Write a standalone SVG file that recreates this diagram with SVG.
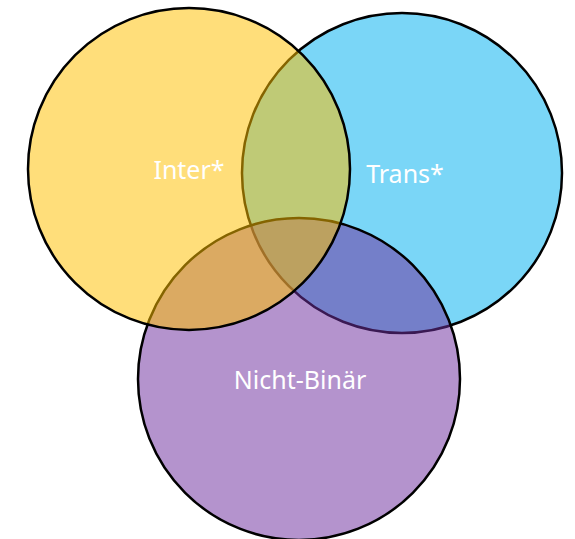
<svg xmlns="http://www.w3.org/2000/svg" width="575" height="539" viewBox="0 0 575 539">
  <style>
    .set { stroke: #000000; stroke-width: 2.5; fill-opacity: 0.52; }
    .lbl { font-family: "Noto Sans", "Open Sans", sans-serif; font-size: 25px; fill: #ffffff; text-anchor: middle; }
  </style>
  <rect width="575" height="539" fill="#ffffff"/>
  <g id="trans">
    <circle class="set" cx="402" cy="173" r="160" fill="#00B0F0"/>
  </g>
  <g id="nicht-binaer">
    <circle class="set" cx="299" cy="379" r="161" fill="#7030A0" fill-opacity="0.53"/>
  </g>
  <g id="inter">
    <circle class="set" cx="189" cy="169" r="161" fill="#FFC000" fill-opacity="0.54"/>
  </g>
  <g id="labels">
    <text class="lbl" x="189" y="179">Inter*</text>
    <text class="lbl" x="405" y="183">Trans*</text>
    <text class="lbl" x="300" y="389">Nicht-Binär</text>
  </g>
</svg>
